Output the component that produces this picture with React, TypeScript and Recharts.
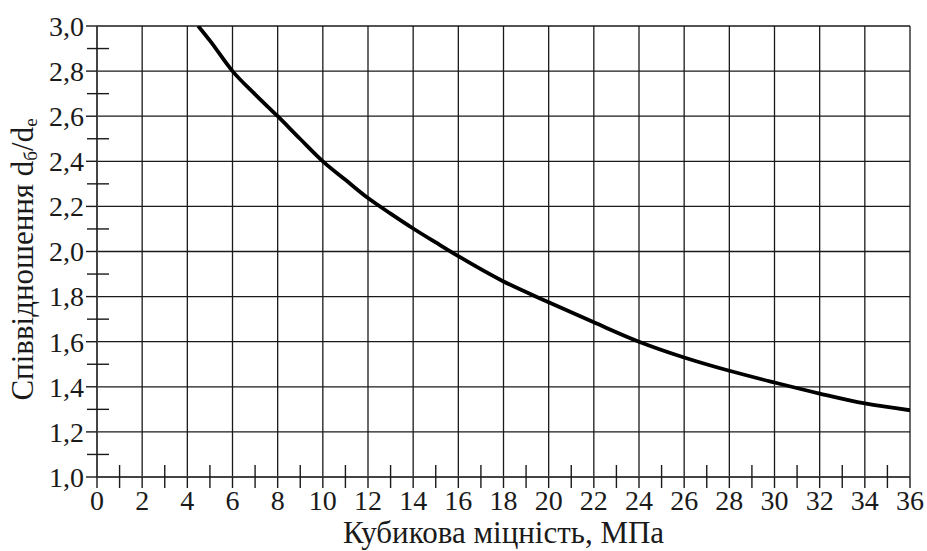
import React from 'react';
import { LineChart, Line, XAxis, YAxis, CartesianGrid } from 'recharts';

// curve: cube strength (MPa) -> ratio d6/de
const strength = [4.48, 5, 6, 7, 8, 9, 10, 11, 12, 13, 14, 15, 16, 18, 20, 22, 24, 26, 28, 30, 32, 34, 36];
const ratio = [3.0, 2.935, 2.8, 2.697, 2.6, 2.499, 2.4, 2.318, 2.237, 2.168, 2.102, 2.04, 1.979, 1.867, 1.775, 1.686, 1.6, 1.53, 1.471, 1.419, 1.37, 1.326, 1.296];

const xMajor = [0, 2, 4, 6, 8, 10, 12, 14, 16, 18, 20, 22, 24, 26, 28, 30, 32, 34, 36];
const xMinor = [1, 3, 5, 7, 9, 11, 13, 15, 17, 19, 21, 23, 25, 27, 29, 31, 33, 35];
const yMajor = [1.0, 1.2, 1.4, 1.6, 1.8, 2.0, 2.2, 2.4, 2.6, 2.8, 3.0];
const yMinor = [1.1, 1.3, 1.5, 1.7, 1.9, 2.1, 2.3, 2.5, 2.7, 2.9];

const xTicks = [...xMajor, ...xMinor].sort((a, b) => a - b);
const yTicks = [...yMajor, ...yMinor].sort((a, b) => a - b);

const data = strength.map((x, i) => ({ x, y: ratio[i] }));

const FONT = 'Liberation Serif';
const INK = '#1a1a1a';
const TICK_FS = 28;
const LABEL_FS = 31;

const isIn = (arr: number[], v: number) => arr.some((m) => Math.abs(m - v) < 1e-6);
const fmt = (v: number) => v.toFixed(1).replace('.', ',');

const YTick = (props: any) => {
  const { x, y, payload } = props;
  const v = payload.value;
  if (!isIn(yMajor, v)) {
    return <line x1={x - 10} x2={x + 12} y1={y} y2={y} stroke={INK} strokeWidth={1.4} />;
  }
  return (
    <g>
      <line x1={x - 11} x2={x} y1={y} y2={y} stroke={INK} strokeWidth={1.4} />
      <text x={x - 13} y={y} dy="0.35em" textAnchor="end" fontFamily={FONT} fontSize={TICK_FS} fill={INK}>
        {fmt(v)}
      </text>
    </g>
  );
};

const XTick = (props: any) => {
  const { x, y, payload } = props;
  const v = payload.value;
  if (!isIn(xMajor, v)) {
    return <line x1={x} x2={x} y1={y - 12} y2={y + 11} stroke={INK} strokeWidth={1.4} />;
  }
  return (
    <g>
      <line x1={x} x2={x} y1={y} y2={y + 11} stroke={INK} strokeWidth={1.4} />
      <text x={x} y={y + 13} dy="0.71em" textAnchor="middle" fontFamily={FONT} fontSize={TICK_FS} fill={INK}>
        {v}
      </text>
    </g>
  );
};

const XLabel = (props: any) => {
  const vb = props.viewBox;
  return (
    <text x={vb.x + vb.width / 2} y={vb.y + 66} textAnchor="middle" fontFamily={FONT} fontSize={LABEL_FS} fill={INK}>
      Кубикова міцність, МПа
    </text>
  );
};

const YLabel = (props: any) => {
  const vb = props.viewBox;
  const cx = 33;
  const cy = vb.y + vb.height / 2 + 8;
  return (
    <text x={cx} y={cy} transform={`rotate(-90, ${cx}, ${cy})`} textAnchor="middle" fontFamily={FONT} fontSize={LABEL_FS} fill={INK}>
      Співвідношення d
      <tspan fontSize={19} dy={4}>б</tspan>
      <tspan dy={-4}>/d</tspan>
      <tspan fontSize={19} dy={4}>е</tspan>
    </text>
  );
};

export default function App() {
  return (
    <div style={{ position: 'absolute', left: 0, top: 0, background: '#fff' }}>
      <LineChart width={927} height={551} data={data} margin={{ top: 26, right: 17, left: 0, bottom: 0 }}>
        <CartesianGrid
          horizontalValues={yMajor}
          verticalValues={xMajor}
          stroke={INK}
          strokeWidth={1.3}
        />
        <XAxis
          dataKey="x"
          type="number"
          domain={[0, 36]}
          ticks={xTicks}
          interval={0}
          height={74}
          tickSize={0}
          tickMargin={0}
          tickLine={false}
          tick={<XTick />}
          axisLine={{ stroke: '#444', strokeWidth: 2 }}
          label={{ content: <XLabel /> }}
          allowDataOverflow
        />
        <YAxis
          type="number"
          domain={[1, 3]}
          ticks={yTicks}
          interval={0}
          width={97}
          tickSize={0}
          tickMargin={0}
          tickLine={false}
          tick={<YTick />}
          axisLine={{ stroke: '#444', strokeWidth: 2 }}
          label={{ content: <YLabel /> }}
          allowDataOverflow
        />
        <Line
          type="monotone"
          dataKey="y"
          stroke="#000"
          strokeWidth={3.8}
          dot={false}
          isAnimationActive={false}
        />
      </LineChart>
    </div>
  );
}
